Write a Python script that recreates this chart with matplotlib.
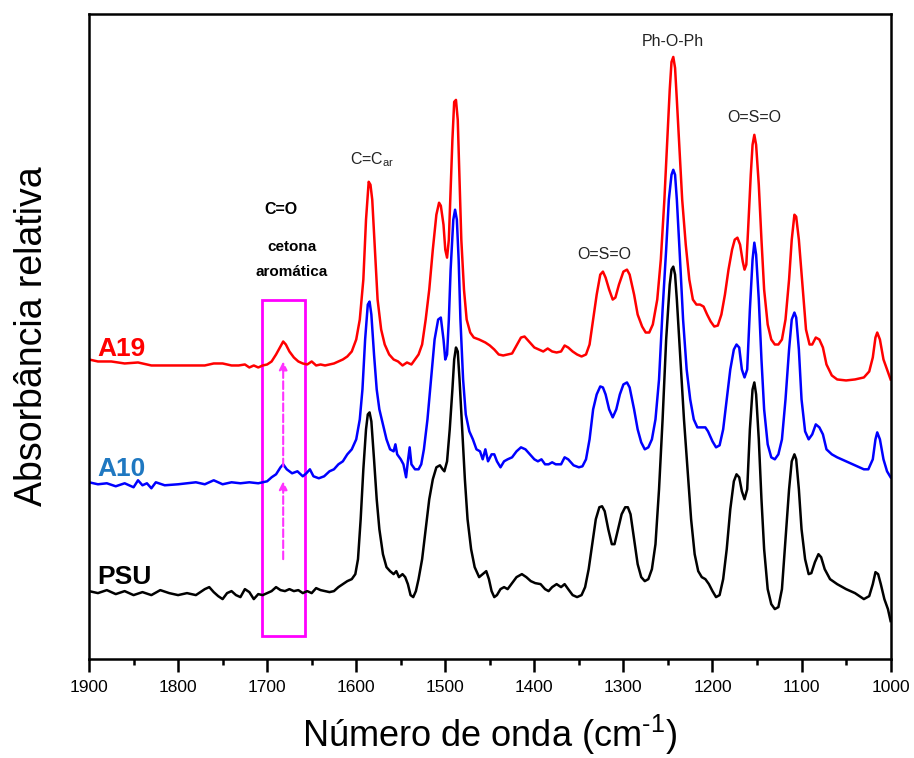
import matplotlib.pyplot as plt
from matplotlib.patches import Rectangle
from matplotlib.ticker import MultipleLocator

# FTIR spectra (relative absorbance, arbitrary units, curves already offset)
wn_a19 = [1900, 1890, 1875, 1860, 1845, 1830, 1815, 1800, 1785, 1770, 1760, 1750, 1740, 1732, 1725, 1720, 1715, 1710,
          1705, 1700, 1695, 1690, 1685, 1682, 1679, 1675, 1670, 1665, 1660, 1655, 1650, 1645, 1640, 1635, 1630, 1625,
          1620, 1615, 1610, 1605, 1600, 1596, 1592, 1589, 1586, 1584, 1582, 1579, 1576, 1572, 1568, 1563, 1558, 1553,
          1548, 1543, 1538, 1534, 1530, 1526, 1522, 1518, 1514, 1510, 1507, 1505, 1502, 1500, 1498, 1496, 1494, 1492,
          1490, 1488, 1486, 1484, 1482, 1479, 1476, 1472, 1468, 1462, 1455, 1450, 1445, 1440, 1435, 1430, 1425, 1420,
          1415, 1411, 1406, 1400, 1395, 1390, 1385, 1380, 1375, 1370, 1366, 1362, 1357, 1352, 1347, 1342, 1338, 1334,
          1330, 1326, 1323, 1320, 1316, 1312, 1309, 1305, 1300, 1296, 1293, 1288, 1284, 1279, 1275, 1271, 1267, 1262,
          1258, 1254, 1251, 1248, 1246, 1244, 1242, 1240, 1237, 1234, 1230, 1226, 1222, 1218, 1214, 1210, 1206, 1202,
          1198, 1194, 1190, 1186, 1182, 1178, 1175, 1172, 1169, 1166, 1164, 1162, 1160, 1157, 1155, 1153, 1151, 1148,
          1145, 1142, 1138, 1134, 1130, 1126, 1122, 1118, 1114, 1111, 1108, 1106, 1103, 1099, 1095, 1091, 1088, 1084,
          1080, 1076, 1072, 1066, 1060, 1050, 1040, 1030, 1024, 1020, 1017, 1015, 1012, 1008, 1004, 1000]
abs_a19 = [300, 298, 298, 296, 297, 294, 294, 294, 294, 294, 296, 296, 294, 294, 295, 292, 294, 292,
           294, 295, 298, 305, 313, 318, 315, 308, 302, 298, 296, 295, 298, 294, 295, 294, 295, 296,
           298, 300, 303, 308, 320, 340, 380, 440, 478, 475, 460, 410, 360, 330, 315, 305, 300, 298,
           294, 297, 295, 300, 305, 315, 340, 370, 410, 445, 457, 454, 435, 410, 402, 420, 470, 520,
           558, 560, 540, 480, 420, 370, 340, 327, 322, 320, 317, 314, 310, 305, 304, 305, 306, 314,
           322, 323, 318, 312, 310, 308, 311, 308, 307, 308, 314, 312, 308, 305, 303, 305, 315, 340,
           365, 385, 388, 382, 370, 360, 362, 375, 388, 390, 385, 365, 345, 333, 327, 327, 335, 360,
           400, 460, 515, 570, 598, 603, 592, 560, 510, 460, 415, 380, 360, 355, 355, 353, 345, 338,
           333, 334, 345, 365, 390, 410, 420, 422, 415, 398, 390, 395, 430, 485, 515, 525, 515, 475,
           420, 370, 335, 320, 315, 315, 320, 340, 380, 420, 445, 443, 420, 375, 330, 315, 315, 322,
           320, 312, 295, 284, 280, 279, 280, 282, 288, 302, 322, 327, 320, 300, 290, 280]

wn_a10 = [1900, 1890, 1880, 1870, 1860, 1850, 1845, 1840, 1835, 1830, 1825, 1815, 1800, 1790, 1780, 1770, 1760, 1750,
          1740, 1730, 1720, 1710, 1700, 1695, 1690, 1685, 1682, 1678, 1672, 1666, 1660, 1656, 1652, 1648, 1642, 1636,
          1630, 1625, 1620, 1615, 1610, 1605, 1600, 1596, 1593, 1590, 1587, 1585, 1583, 1580, 1577, 1574, 1570, 1566,
          1562, 1558, 1556, 1554, 1550, 1547, 1544, 1542, 1540, 1538, 1534, 1530, 1527, 1524, 1520, 1516, 1512, 1508,
          1505, 1502, 1500, 1498, 1496, 1494, 1491, 1489, 1487, 1485, 1483, 1480, 1477, 1473, 1469, 1465, 1461, 1458,
          1455, 1452, 1448, 1445, 1442, 1438, 1434, 1430, 1425, 1420, 1415, 1410, 1405, 1400, 1396, 1392, 1388, 1384,
          1380, 1376, 1370, 1366, 1362, 1356, 1350, 1346, 1342, 1338, 1334, 1330, 1326, 1323, 1320, 1316, 1312, 1308,
          1304, 1300, 1296, 1293, 1288, 1284, 1280, 1276, 1272, 1268, 1264, 1260, 1256, 1252, 1249, 1246, 1244, 1242,
          1240, 1237, 1233, 1229, 1225, 1221, 1217, 1212, 1208, 1205, 1200, 1196, 1192, 1188, 1184, 1180, 1176, 1173,
          1170, 1167, 1164, 1161, 1158, 1155, 1153, 1151, 1148, 1145, 1142, 1138, 1134, 1130, 1126, 1122, 1118, 1114,
          1111, 1108, 1106, 1103, 1100, 1096, 1092, 1088, 1084, 1080, 1076, 1072, 1066, 1060, 1050, 1040, 1030, 1025,
          1020, 1017, 1015, 1012, 1008, 1004, 1000]
abs_a10 = [177, 175, 176, 173, 176, 172, 179, 174, 176, 171, 177, 174, 175, 176, 177, 175, 179, 175,
           177, 176, 177, 176, 178, 182, 185, 192, 195, 190, 186, 188, 183, 186, 190, 183, 181, 183,
           188, 190, 195, 198, 205, 210, 220, 240, 270, 320, 355, 358, 345, 305, 270, 250, 235, 220,
           210, 208, 215, 205, 200, 195, 182, 198, 212, 195, 190, 190, 195, 210, 240, 280, 320, 340,
           342, 320, 300, 305, 340, 390, 440, 450, 440, 400, 340, 280, 245, 228, 220, 210, 208, 200,
           210, 198, 205, 205, 198, 192, 198, 200, 202, 208, 212, 210, 205, 200, 198, 200, 195, 195,
           197, 195, 195, 202, 200, 194, 192, 193, 200, 220, 250, 265, 273, 272, 265, 250, 242, 250,
           265, 275, 277, 272, 250, 230, 217, 210, 212, 220, 240, 280, 350, 410, 460, 485, 490, 485,
           460, 410, 340, 290, 260, 240, 232, 232, 232, 228, 218, 212, 214, 230, 260, 290, 310, 315,
           312, 290, 282, 290, 350, 400, 417, 405, 360, 300, 250, 215, 202, 200, 205, 220, 260, 310,
           340, 347, 342, 310, 260, 228, 220, 225, 235, 232, 225, 210, 205, 202, 198, 194, 190, 190,
           200, 220, 227, 220, 200, 188, 182]

wn_psu = [1900, 1890, 1880, 1870, 1860, 1850, 1840, 1830, 1820, 1810, 1800, 1790, 1780, 1770, 1765, 1760, 1755, 1750,
          1745, 1740, 1735, 1730, 1725, 1720, 1715, 1710, 1705, 1700, 1695, 1690, 1685, 1680, 1675, 1670, 1665, 1660,
          1655, 1650, 1645, 1640, 1635, 1630, 1625, 1620, 1615, 1610, 1605, 1601, 1598, 1595, 1592, 1589, 1587, 1585,
          1583, 1580, 1577, 1574, 1570, 1566, 1562, 1558, 1555, 1552, 1548, 1545, 1542, 1539, 1536, 1533, 1530, 1526,
          1522, 1518, 1514, 1510, 1506, 1503, 1501, 1498, 1495, 1492, 1490, 1488, 1486, 1484, 1481, 1478, 1475, 1471,
          1467, 1462, 1458, 1454, 1451, 1448, 1445, 1442, 1438, 1434, 1430, 1425, 1420, 1414, 1409, 1404, 1399, 1393,
          1388, 1384, 1380, 1375, 1370, 1366, 1362, 1357, 1352, 1347, 1343, 1339, 1335, 1331, 1327, 1324, 1321, 1317,
          1313, 1310, 1306, 1302, 1298, 1295, 1292, 1288, 1284, 1280, 1276, 1272, 1268, 1264, 1260, 1256, 1252, 1248,
          1246, 1244, 1242, 1240, 1236, 1232, 1228, 1224, 1220, 1216, 1212, 1208, 1204, 1200, 1196, 1192, 1188, 1184,
          1180, 1176, 1173, 1170, 1167, 1164, 1161, 1158, 1155, 1153, 1151, 1148, 1145, 1142, 1138, 1134, 1130, 1126,
          1122, 1118, 1114, 1111, 1108, 1106, 1103, 1100, 1096, 1092, 1089, 1085, 1081, 1078, 1074, 1068, 1060, 1050,
          1040, 1030, 1024, 1020, 1017, 1014, 1011, 1007, 1003, 1000]
abs_psu = [68, 66, 69, 65, 68, 64, 67, 64, 69, 66, 64, 66, 64, 70, 72, 67, 63, 60,
           66, 68, 64, 62, 70, 67, 60, 65, 64, 66, 68, 72, 69, 68, 70, 68, 69, 66,
           68, 66, 71, 69, 68, 67, 68, 72, 75, 78, 80, 85, 100, 140, 190, 230, 245, 247,
           238, 200, 160, 130, 105, 92, 88, 85, 88, 82, 85, 82, 75, 64, 62, 68, 80, 100,
           130, 160, 180, 192, 194, 190, 188, 198, 230, 270, 300, 312, 308, 280, 230, 180, 140, 110,
           92, 82, 85, 88, 80, 68, 62, 64, 70, 72, 70, 76, 82, 85, 82, 78, 76, 75,
           70, 68, 72, 75, 72, 75, 70, 64, 62, 64, 72, 90, 115, 140, 152, 153, 148, 130,
           115, 115, 130, 145, 152, 152, 145, 120, 95, 82, 78, 80, 90, 115, 170, 240, 320, 375,
           390, 393, 385, 360, 300, 240, 190, 140, 105, 88, 82, 80, 75, 68, 62, 64, 80, 110,
           150, 178, 185, 182, 168, 160, 170, 230, 270, 277, 265, 220, 160, 110, 70, 55, 50, 52,
           70, 120, 170, 198, 205, 200, 170, 130, 100, 85, 86, 97, 105, 102, 90, 80, 75, 70,
           66, 60, 63, 75, 87, 85, 75, 60, 50, 38]

peak_labels = [r'C=C$_{\mathregular{ar}}$', 'O=S=O', 'Ph-O-Ph', 'O=S=O']
peak_wn = [1582, 1322, 1244, 1153]
peak_y = [500, 405, 618, 542]

series_names = ['A19', 'A10', 'PSU']
series_colors = ['#ff0000', '#0000ff', '#000000']
label_colors = ['#ff0000', '#1f78c1', '#000000']
label_y = [303, 183, 75]

plt.rcParams['mathtext.fontset'] = 'custom'
plt.rcParams['mathtext.rm'] = 'Liberation Sans'
plt.rcParams['mathtext.it'] = 'Liberation Sans:italic'

fig = plt.figure(figsize=(9.14, 7.58), dpi=100)
ax = fig.add_axes([0.0974, 0.1306, 0.877, 0.8509])

for wn, ab, c in zip([wn_a19, wn_a10, wn_psu], [abs_a19, abs_a10, abs_psu], series_colors):
    ax.plot(wn, ab, color=c, lw=1.8)

for name, col, yy in zip(series_names, label_colors, label_y):
    ax.text(1891, yy, name, color=col, fontsize=19, fontweight='bold', ha='left', va='baseline',
            family=['Liberation Sans', 'DejaVu Sans'])

for lab, x, y in zip(peak_labels, peak_wn, peak_y):
    ax.text(x, y, lab, fontsize=11.5, color='#222222', ha='center', va='center',
            family=['Liberation Sans', 'DejaVu Sans'])

# C=O carbonyl marker
ax.add_patch(Rectangle((1706, 23), -49, 337, fill=False, ec='#ff00ff', lw=2))
for y0, y1 in [(100, 178), (193, 298)]:
    ax.annotate('', xy=(1682, y1), xytext=(1682, y0),
                arrowprops=dict(arrowstyle='-|>', color='#ff33ff', lw=1.5, ls='--',
                                mutation_scale=12, shrinkA=0, shrinkB=0))
ax.text(1684, 450, 'C=O', fontsize=11.5, fontweight='bold', ha='center', va='center',
        family=['Liberation Sans', 'DejaVu Sans'])
ax.text(1672, 413, 'cetona', fontsize=11, fontweight='bold', ha='center', va='center',
        family=['Liberation Sans', 'DejaVu Sans'])
ax.text(1672, 388, 'aromática', fontsize=11, fontweight='bold', ha='center', va='center',
        family=['Liberation Sans', 'DejaVu Sans'])

ax.set_xlim(1900, 1000)
ax.set_ylim(0, 646)
ax.xaxis.set_major_locator(MultipleLocator(100))
ax.xaxis.set_minor_locator(MultipleLocator(50))
ax.set_yticks([])
ax.tick_params(axis='x', which='major', length=9, width=1.8, direction='out', labelsize=12.5, pad=6)
ax.tick_params(axis='x', which='minor', length=4.5, width=1.8, direction='out')
for lbl in ax.get_xticklabels():
    lbl.set_family(['Liberation Sans', 'DejaVu Sans'])
for sp in ax.spines.values():
    sp.set_linewidth(1.8)

ax.set_xlabel(r'Número de onda (cm$^{\text{-1}}$)', fontsize=26, labelpad=13,
              family=['Liberation Sans', 'DejaVu Sans'])
ax.set_ylabel('Absorbância relativa', fontsize=27, labelpad=28,
              family=['Liberation Sans', 'DejaVu Sans'])

fig.savefig('out.png', dpi=100)
